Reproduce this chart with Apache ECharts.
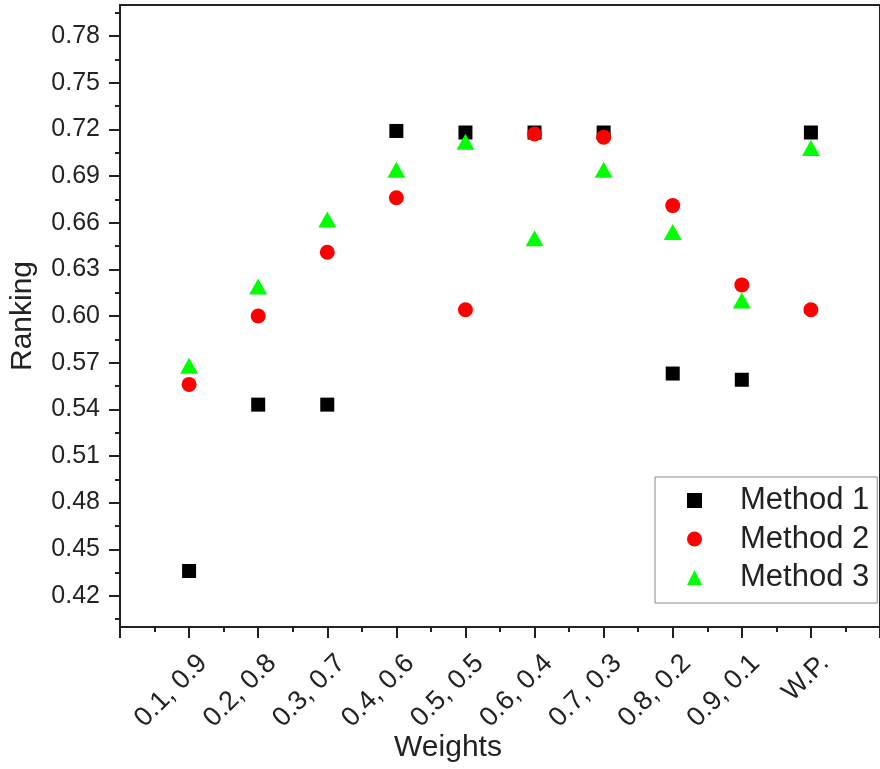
<!DOCTYPE html>
<html>
<head>
<meta charset="utf-8">
<script src="https://cdn.jsdelivr.net/npm/echarts@6/dist/echarts.min.js"></script>
<style>
  html, body { margin: 0; padding: 0; background: #fff; }
  #chart { width: 880px; height: 769px; }
</style>
</head>
<body>
<div id="chart"></div>
<script>
// weight pairs on the x axis
const weights = ['0.1, 0.9', '0.2, 0.8', '0.3, 0.7', '0.4, 0.6', '0.5, 0.5',
                 '0.6, 0.4', '0.7, 0.3', '0.8, 0.2', '0.9, 0.1', 'W.P.'];
// ranking per method
const method1 = [0.436, 0.543, 0.543, 0.719, 0.718, 0.718, 0.718, 0.563, 0.559, 0.718];
const method2 = [0.556, 0.600, 0.641, 0.676, 0.604, 0.717, 0.715, 0.671, 0.620, 0.604];
const method3 = [0.568, 0.619, 0.662, 0.694, 0.712, 0.650, 0.694, 0.654, 0.610, 0.708];
// y tick values
const yTicks = [0.42, 0.45, 0.48, 0.51, 0.54, 0.57, 0.60, 0.63, 0.66, 0.69, 0.72, 0.75, 0.78];
const yMinorTicks = [0.405, 0.435, 0.465, 0.495, 0.525, 0.555, 0.585, 0.615, 0.645,
                     0.675, 0.705, 0.735, 0.765, 0.795];
const xLabelValues = weights.map((w, i) => i + 1);

const toPoints = arr => arr.map((v, i) => [i + 1, v]);
const labelShift = 0.2; // labels sit a bit right of their tick, as in the original
const axisColor = '#222';

const chart = echarts.init(document.getElementById('chart'));
chart.setOption({
    backgroundColor: '#fff',
    textStyle: { fontFamily: 'Liberation Sans, Arial, sans-serif' },
    grid: {
        left: 120, top: 5, width: 769, bottom: 142,
        show: true, borderColor: axisColor, borderWidth: 2
    },
    xAxis: [{
        type: 'value',
        min: 0, max: 11, interval: 1,
        name: 'Weights',
        nameLocation: 'middle',
        nameGap: 106,
        nameTextStyle: { fontSize: 30, color: axisColor, padding: [0, 104, 0, 0] },
        axisLine: { show: true, lineStyle: { color: axisColor, width: 2 } },
        axisTick: { show: true, length: 11, lineStyle: { color: axisColor, width: 2 } },
        minorTick: { show: true, splitNumber: 2, length: 5, lineStyle: { color: axisColor, width: 2 } },
        axisLabel: { show: false },
        splitLine: { show: false }
    }, {
        type: 'value',
        position: 'bottom',
        min: -labelShift, max: 11 - labelShift,
        axisLine: { show: false, onZero: false },
        axisTick: { show: false },
        splitLine: { show: false },
        axisLabel: {
            customValues: xLabelValues,
            rotate: 45,
            margin: 32,
            fontSize: 27,
            color: axisColor,
            formatter: v => weights[Math.round(v) - 1] || ''
        }
    }],
    yAxis: [{
        type: 'value',
        min: 0.40, max: 0.80,
        name: 'Ranking',
        nameLocation: 'middle',
        nameGap: 82,
        nameTextStyle: { fontSize: 30, color: axisColor },
        axisLine: { show: true, onZero: false, lineStyle: { color: axisColor, width: 2 } },
        axisTick: { show: true, customValues: yTicks, length: 11, lineStyle: { color: axisColor, width: 2 } },
        splitLine: { show: false },
        axisLabel: {
            customValues: yTicks,
            fontSize: 25,
            color: axisColor,
            margin: 20,
            formatter: v => v.toFixed(2)
        }
    }, {
        type: 'value',
        position: 'left',
        min: 0.40, max: 0.80,
        axisLine: { show: false, onZero: false },
        axisTick: { show: true, customValues: yMinorTicks, length: 5, lineStyle: { color: axisColor, width: 2 } },
        axisLabel: { show: false },
        splitLine: { show: false }
    }],
    legend: {
        orient: 'vertical',
        left: 655, top: 477,
        padding: [8, 8, 10, 32],
        itemWidth: 15, itemHeight: 15, itemGap: 7.5,
        borderColor: '#888', borderWidth: 1,
        textStyle: { fontSize: 31, color: axisColor, lineHeight: 30, padding: [0, 0, 0, 33] },
        data: ['Method 1', 'Method 2', 'Method 3']
    },
    series: [{
        name: 'Method 1', type: 'scatter',
        symbol: 'rect', symbolSize: 14,
        itemStyle: { color: '#000', opacity: 1 },
        data: toPoints(method1)
    }, {
        name: 'Method 2', type: 'scatter',
        symbol: 'circle', symbolSize: 15,
        itemStyle: { color: '#ff0000', opacity: 1 },
        data: toPoints(method2)
    }, {
        name: 'Method 3', type: 'scatter',
        symbol: 'triangle', symbolSize: [18, 16],
        itemStyle: { color: '#00ff00', opacity: 1 },
        data: toPoints(method3)
    }]
});
</script>
</body>
</html>
